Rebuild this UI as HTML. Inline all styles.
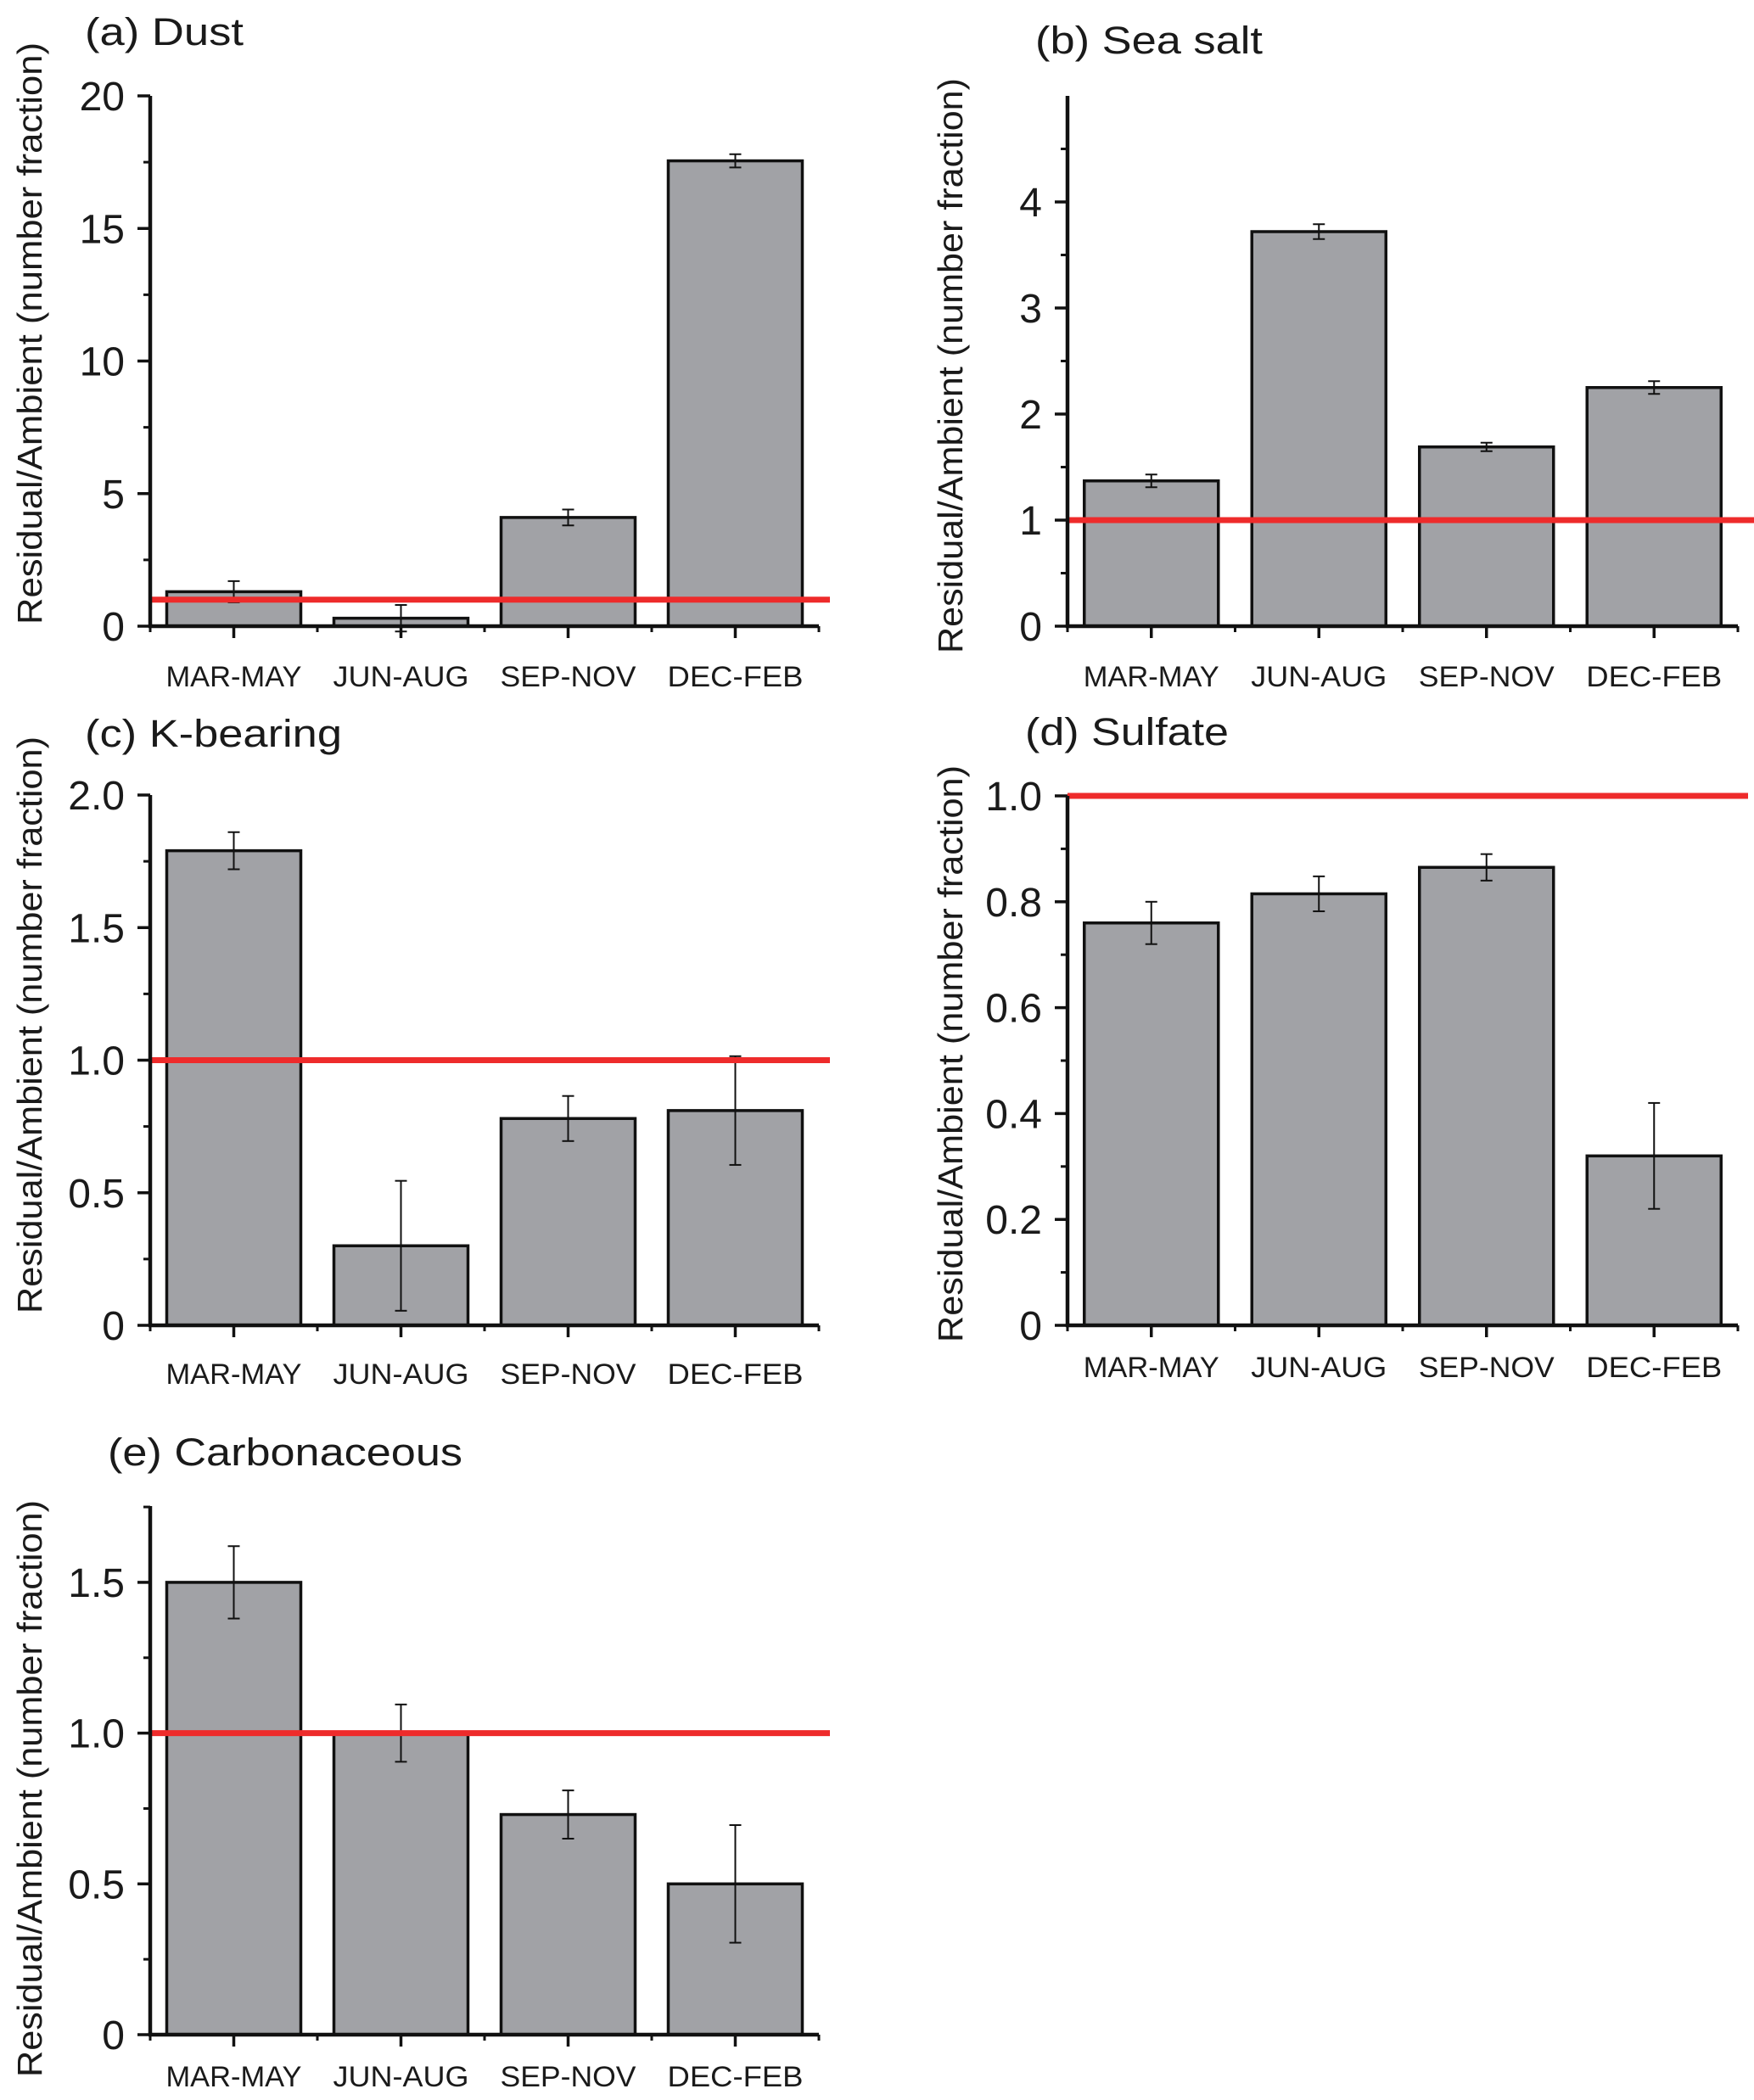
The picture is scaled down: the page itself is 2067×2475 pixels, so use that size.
<!DOCTYPE html>
<html><head><meta charset="utf-8"><style>
html,body{margin:0;padding:0;background:#fff;}
svg{display:block;}
text{font-family:"Liberation Sans",Arial,sans-serif;fill:#1a1a1a;}
</style></head>
<body>
<svg id="fig" width="2067" height="2475" viewBox="0 0 2067 2475" xmlns="http://www.w3.org/2000/svg"></svg>
<script>
const categories = ["MAR-MAY","JUN-AUG","SEP-NOV","DEC-FEB"];
const dustValues = [1.3, 0.3, 4.1, 17.55];
const dustErr = [0.4, 0.5, 0.3, 0.25];
const dustTicks = ["0","5","10","15","20"];
const seaValues = [1.37, 3.72, 1.69, 2.25];
const seaErr = [0.06, 0.07, 0.04, 0.06];
const seaTicks = ["0","1","2","3","4"];
const kValues = [1.79, 0.30, 0.78, 0.81];
const kErr = [0.07, 0.245, 0.085, 0.205];
const kTicks = ["0","0.5","1.0","1.5","2.0"];
const sulValues = [0.76, 0.815, 0.865, 0.32];
const sulErr = [0.04, 0.033, 0.025, 0.10];
const sulTicks = ["0","0.2","0.4","0.6","0.8","1.0"];
const carbValues = [1.50, 1.0, 0.73, 0.50];
const carbErr = [0.12, 0.095, 0.08, 0.195];
const carbTicks = ["0","0.5","1.0","1.5"];
const refLine = 1;

const NS = "http://www.w3.org/2000/svg";
const svg = document.getElementById("fig");
function mk(tag, attrs, parent){
  const e = document.createElementNS(NS, tag);
  for (const k in attrs) e.setAttribute(k, attrs[k]);
  (parent||svg).appendChild(e);
  return e;
}

function panel(p){
  const g = mk("g", {});
  
  
  const y = v => p.y0 - (v - 0) / p.ymax * (p.y0 - p.ytop);
  const step = (p.xr - p.ax) / categories.length;
  const cx = i => p.ax + step * (i + 0.5);
  const bw = 158;
  p.values.forEach((v, i) => {
    const r = mk("rect", {x: cx(i) - bw/2, y: y(v), width: bw, height: p.y0 - y(v), fill: "#a1a2a6", stroke: "#111", "stroke-width": 3.5}, g);
    
    
  });
  p.values.forEach((v, i) => {
    const e = p.err[i];
    const eg = mk("g", {stroke: "#111", "stroke-width": 2}, g);
    
    
    mk("line", {x1: cx(i), x2: cx(i), y1: y(v + e), y2: y(v - e)}, eg);
    mk("line", {x1: cx(i) - 7, x2: cx(i) + 7, y1: y(v + e), y2: y(v + e)}, eg);
    mk("line", {x1: cx(i) - 7, x2: cx(i) + 7, y1: y(v - e), y2: y(v - e)}, eg);
  });
  const rl = mk("line", {x1: p.ax, x2: p.redEnd, y1: y(refLine), y2: y(refLine), stroke: "#ee2b2b", "stroke-width": 7}, g);
  
  
  const ya = mk("line", {x1: p.ax, x2: p.ax, y1: p.ytop, y2: p.y0 + 2, stroke: "#111", "stroke-width": 4.5}, g);
  
  
  const xa = mk("line", {x1: p.ax - 2, x2: p.xr, y1: p.y0, y2: p.y0, stroke: "#111", "stroke-width": 4.5}, g);
  
  
  p.ticks.forEach(t => {
    const v = parseFloat(t);
    mk("line", {x1: p.ax - 15, x2: p.ax, y1: y(v), y2: y(v), stroke: "#111", "stroke-width": 3.5}, g);
    const tx = mk("text", {x: p.ax - 30, y: y(v) + 17, "text-anchor": "end", "font-size": 48}, g);
    tx.textContent = t;
    
    
  });
  for (let v = p.minor; v < p.ymax; v += p.minor * 2) {
    mk("line", {x1: p.ax - 8, x2: p.ax, y1: y(v), y2: y(v), stroke: "#111", "stroke-width": 3}, g);
  }
  categories.forEach((c, i) => {
    mk("line", {x1: cx(i), x2: cx(i), y1: p.y0, y2: p.y0 + 14, stroke: "#111", "stroke-width": 3.5}, g);
    const t = mk("text", {x: cx(i), y: p.catY + 12, "text-anchor": "middle", "font-size": 34, textLength: 160, lengthAdjust: "spacingAndGlyphs"}, g);
    t.textContent = c;
    
    
  });
  for (let i = 0; i <= categories.length; i++) {
    mk("line", {x1: p.ax + step * i, x2: p.ax + step * i, y1: p.y0, y2: p.y0 + 7, stroke: "#111", "stroke-width": 3}, g);
  }
  const yt = mk("text", {x: 0, y: 0, "text-anchor": "middle", "font-size": 41, textLength: p.ytLen, lengthAdjust: "spacingAndGlyphs",
    transform: `translate(${p.ytX + 14},${p.ytY}) rotate(-90)`}, g);
  yt.textContent = "Residual/Ambient (number fraction)";
  
  
  const tt = mk("text", {x: p.tx, y: p.ty, "font-size": 45, textLength: p.tLen, lengthAdjust: "spacingAndGlyphs"}, g);
  tt.textContent = p.title;
  
  
}

panel({id:"dust", title:"(a) Dust", values:dustValues, err:dustErr, ticks:dustTicks, ymax:20, minor:2.5,
  ax:177, xr:965, y0:738, ytop:113, redEnd:978, catY:797, ytX:35, ytY:393, ytLen:686, tx:100, ty:53, tLen:187});
panel({id:"sea-salt", title:"(b) Sea salt", values:seaValues, err:seaErr, ticks:seaTicks, ymax:5, minor:0.5,
  ax:1258, xr:2048, y0:738, ytop:113, redEnd:2067, catY:797, ytX:1120, ytY:431, ytLen:678, tx:1220, ty:63, tLen:268});
panel({id:"k-bearing", title:"(c) K-bearing", values:kValues, err:kErr, ticks:kTicks, ymax:2, minor:0.25,
  ax:177, xr:965, y0:1562, ytop:937, redEnd:978, catY:1619, ytX:35, ytY:1208, ytLen:680, tx:100, ty:880, tLen:303});
panel({id:"sulfate", title:"(d) Sulfate", values:sulValues, err:sulErr, ticks:sulTicks, ymax:1, minor:0.1,
  ax:1258, xr:2048, y0:1562, ytop:938, redEnd:2060, catY:1611, ytX:1120, ytY:1242, ytLen:680, tx:1208, ty:878, tLen:240});
panel({id:"carbonaceous", title:"(e) Carbonaceous", values:carbValues, err:carbErr, ticks:carbTicks, ymax:1.753, minor:0.25,
  ax:177, xr:965, y0:2398, ytop:1775, redEnd:978, catY:2447, ytX:35, ytY:2108, ytLen:680, tx:127, ty:1727, tLen:418});
</script>
</body></html>
